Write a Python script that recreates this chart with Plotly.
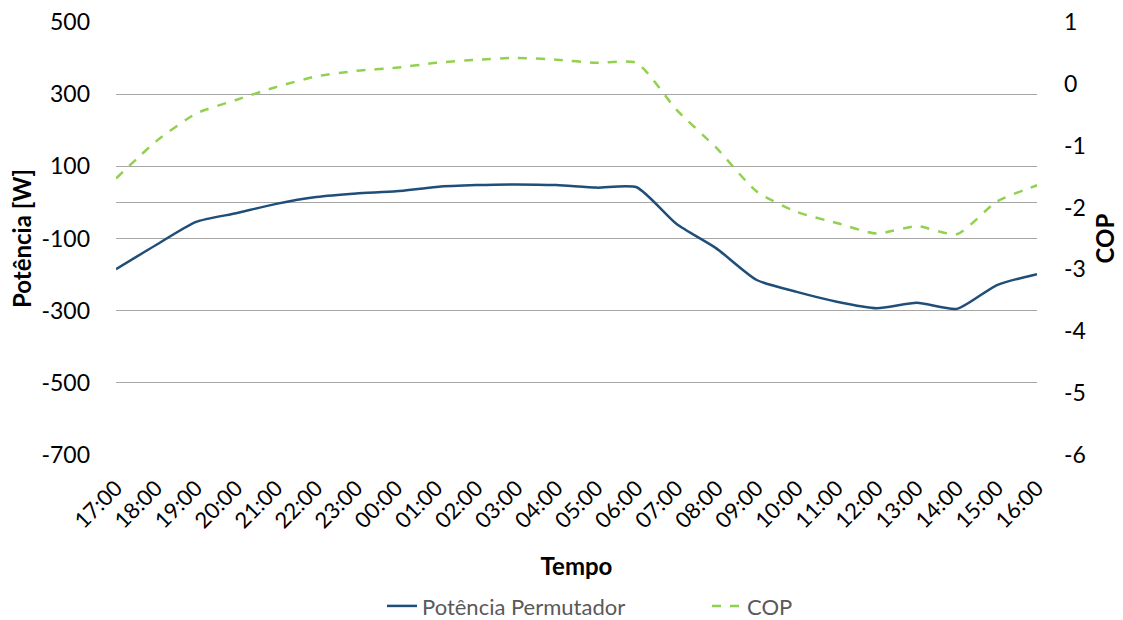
import plotly.graph_objects as go

horas = ["17:00", "18:00", "19:00", "20:00", "21:00", "22:00", "23:00", "00:00",
         "01:00", "02:00", "03:00", "04:00", "05:00", "06:00", "07:00", "08:00",
         "09:00", "10:00", "11:00", "12:00", "13:00", "14:00", "15:00", "16:00"]
potencia = [-185, -118, -54, -30, -4, 15, 25, 31, 43, 48, 50, 48, 41, 42, -60, -128,
            -215, -248, -275, -293, -278, -295, -229, -199]
cop = [-1.53, -0.93, -0.48, -0.26, -0.05, 0.12, 0.21, 0.26, 0.34, 0.39, 0.42, 0.39,
       0.34, 0.34, -0.42, -1.04, -1.74, -2.07, -2.25, -2.42, -2.30, -2.43, -1.90, -1.64]
left_ticks = [500, 300, 100, -100, -300, -500, -700]
right_ticks = [1, 0, -1, -2, -3, -4, -5, -6]

idx = list(range(len(horas)))
FONT = "Lato, Carlito, Calibri, sans-serif"

fig = go.Figure()
fig.add_trace(go.Scatter(x=idx, y=potencia, name="Potência Permutador", mode="lines",
                         line=dict(color="#1F4E79", width=2.5, shape="spline", smoothing=0.6)))
fig.add_trace(go.Scatter(x=idx, y=cop, name="COP", mode="lines", yaxis="y2",
                         line=dict(color="#92D050", width=2.5, dash="dash", shape="spline", smoothing=0.6)))

W, H = 1123, 620
L, R, T, B = 116, 1123 - 1037, 22, 620 - 455
PW = W - L - R

fig.update_layout(
    width=W, height=H,
    margin=dict(l=L, r=R, t=T, b=B, autoexpand=False),
    plot_bgcolor="white", paper_bgcolor="white",
    font=dict(family=FONT, size=22, color="black"),
    showlegend=True,
    legend=dict(orientation="h", x=(382 - L) / PW, xanchor="left", y=-0.349, yanchor="middle",
                font=dict(size=22, color="#595959"), tracegroupgap=0,
                entrywidth=280, entrywidthmode="pixels"),
    xaxis=dict(
        tickmode="array", tickvals=idx, ticktext=horas, tickangle=-45,
        range=[0, len(horas) - 1], showgrid=False, zeroline=False, showline=False,
        ticks="", ticklabelstandoff=15, automargin=False,
        tickfont=dict(size=22, color="black"),
        title=dict(text="<b>Tempo</b>", font=dict(size=24), standoff=25),
    ),
    yaxis=dict(
        range=[-700, 500], tickmode="array", tickvals=left_ticks,
        ticktext=[str(v) for v in left_ticks],
        showgrid=True, gridcolor="#A6A6A6", gridwidth=1,
        zeroline=True, zerolinecolor="#A6A6A6", zerolinewidth=1,
        showline=False, ticks="", ticklabelstandoff=25, automargin=False,
        tickfont=dict(size=23),
        title=dict(text="<b>Potência [W]</b>", font=dict(size=24), standoff=3),
    ),
    yaxis2=dict(
        range=[-6, 1], tickmode="array", tickvals=right_ticks,
        ticktext=[str(v) for v in right_ticks], overlaying="y", side="right",
        showgrid=False, zeroline=False, showline=False, ticks="", ticklabelstandoff=26,
        automargin=False, tickfont=dict(size=23),
        title=dict(text="<b>COP</b>", font=dict(size=24), standoff=12),
    ),
)

fig.write_html("out.html")
